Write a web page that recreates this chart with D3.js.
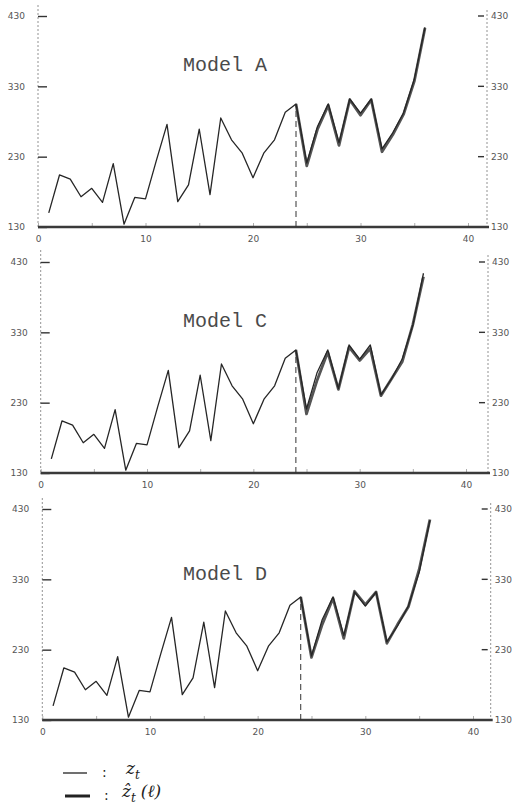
<!DOCTYPE html>
<html lang="en">
<head>
    <meta charset="UTF-8">
    <title>Models A, C, D</title>
    <script src="https://d3js.org/d3.v7.min.js"></script>
</head>
<body style="margin:0;background:#fff;">

<style>
    .axis text{
        fill: #555;
        font: 9px "DejaVu Sans", sans-serif;
    }
    .axis line{
        stroke: #333;
        stroke-width: 1.4;
    }
    .axis path{
        display: none;
    }
    .title{
        font: 20px "Liberation Mono", monospace;
        fill: #4a4a4a;
    }
</style>

<script type="text/javascript">

    // observed series z_t, t = 1..36
    var time = d3.range(1, 37);
    var actual = [150, 204, 198, 173, 185, 165, 220, 134, 172, 170, 224, 276,
                  166, 190, 269, 176, 285, 254, 235, 200, 235, 254, 293, 305,
                  221, 273, 305, 250, 312, 292, 312, 241, 264, 292, 340, 414];

    // forecasts from origin t = 24
    var origin = 24;
    var leadTime = d3.range(24, 37);
    var forecastA = [305, 217, 269, 303, 246, 311, 289, 311, 237, 261, 290, 337, 413];
    var forecastC = [305, 214, 262, 302, 249, 309, 290, 307, 240, 264, 288, 341, 409];
    var forecastD = [305, 219, 266, 303, 246, 313, 294, 312, 239, 266, 291, 344, 415];

    var models = ["Model A", "Model C", "Model D"];
    var forecasts = [forecastA, forecastC, forecastD];

    var yTicks = [130, 230, 330, 430];
    var xTicks = [0, 5, 10, 15, 20, 25, 30, 35, 40];

    // where each panel sits on the scanned page
    var panels = [
        {x0: 38, x40: 468, right: 487, y130: 227, y430: 16, top: 5, titleY: 71},
        {x0: 40.7, x40: 466, right: 488, y130: 473, y430: 262, top: 250, titleY: 327},
        {x0: 42.3, x40: 473, right: 490.7, y130: 720, y430: 509, top: 498, titleY: 580}
    ];

    var svg = d3.select("body").append("svg")
            .attr("width", 517)
            .attr("height", 808);

    panels.forEach(function(p, i){

        var xScale = d3.scaleLinear().domain([0, 40]).range([p.x0, p.x40]);
        var yScale = d3.scaleLinear().domain([130, 430]).range([p.y130, p.y430]);

        var g = svg.append("g");

        // dotted side axes
        g.append("line")
                .attr("x1", p.x0).attr("x2", p.x0)
                .attr("y1", p.top).attr("y2", p.y130)
                .style("stroke", "#777").style("stroke-width", 0.8)
                .style("stroke-dasharray", "2,2");
        g.append("line")
                .attr("x1", p.right).attr("x2", p.right)
                .attr("y1", p.top + 5).attr("y2", p.y130)
                .style("stroke", "#777").style("stroke-width", 0.8)
                .style("stroke-dasharray", "2,2");

        g.append("g")
                .attr("class", "axis")
                .attr("transform", "translate(" + p.x0 + ",0)")
                .call(d3.axisLeft(yScale).tickValues(yTicks)
                        .tickSizeInner(-9).tickSizeOuter(0).tickPadding(13));

        g.append("g")
                .attr("class", "axis")
                .attr("transform", "translate(" + p.right + ",0)")
                .call(d3.axisRight(yScale).tickValues(yTicks)
                        .tickSizeInner(0).tickSizeOuter(0).tickPadding(4));

        g.append("g")
                .selectAll("line")
                .data(yTicks).enter()
                .append("line")
                .attr("x1", p.right - 9).attr("x2", p.right - 3)
                .attr("y1", function(d){ return yScale(d); })
                .attr("y2", function(d){ return yScale(d); })
                .style("stroke", "#333").style("stroke-width", 1.4);

        var xAxis = g.append("g")
                .attr("class", "axis")
                .attr("transform", "translate(0," + p.y130 + ")")
                .call(d3.axisBottom(xScale).tickValues(xTicks)
                        .tickSizeInner(-4).tickSizeOuter(0).tickPadding(9)
                        .tickFormat(function(d){ return d % 10 === 0 ? d : ""; }));
        xAxis.selectAll("line").style("stroke", "#999").style("stroke-width", 0.8);

        // thick base line
        g.append("line")
                .attr("x1", p.x0).attr("x2", p.right + 2)
                .attr("y1", p.y130).attr("y2", p.y130)
                .style("stroke", "#3a3a3a").style("stroke-width", 2.6);

        // forecast origin
        g.append("line")
                .attr("x1", xScale(origin)).attr("x2", xScale(origin))
                .attr("y1", p.y130)
                .attr("y2", yScale(actual[origin - 1]))
                .style("stroke", "#333").style("stroke-width", 1)
                .style("stroke-dasharray", "6,4");

        var line = d3.line()
                .x(function(d){ return xScale(d[0]); })
                .y(function(d){ return yScale(d[1]); });

        g.append("path")
                .datum(leadTime.map(function(t, k){ return [t, forecasts[i][k]]; }))
                .attr("d", line)
                .style("fill", "none")
                .style("stroke", "#555")
                .style("stroke-width", 2.8)
                .style("stroke-linejoin", "round");

        g.append("path")
                .datum(time.map(function(t, k){ return [t, actual[k]]; }))
                .attr("d", line)
                .style("fill", "none")
                .style("stroke", "#262626")
                .style("stroke-width", 1.3)
                .style("stroke-linejoin", "round");

        g.append("text")
                .attr("class", "title")
                .attr("x", 183)
                .attr("y", p.titleY)
                .text(models[i]);
    });

    // handwritten legend
    var legend = svg.append("g");
    legend.append("line")
            .attr("x1", 63).attr("x2", 87).attr("y1", 773).attr("y2", 773)
            .style("stroke", "#222").style("stroke-width", 1.3);
    legend.append("line")
            .attr("x1", 65).attr("x2", 90).attr("y1", 796).attr("y2", 796)
            .style("stroke", "#222").style("stroke-width", 3);

    legend.append("text")
            .attr("x", 102).attr("y", 777)
            .style("font", "14px 'DejaVu Sans', sans-serif").style("fill", "#222")
            .text(":");
    legend.append("text")
            .attr("x", 104).attr("y", 800)
            .style("font", "14px 'DejaVu Sans', sans-serif").style("fill", "#222")
            .text(":");

    var z1 = legend.append("text")
            .attr("x", 126).attr("y", 774)
            .style("font", "italic 17px 'DejaVu Serif', serif").style("fill", "#222");
    z1.append("tspan").text("z");
    z1.append("tspan").attr("dy", 5).style("font-size", "12px").text("t");

    var z2 = legend.append("text")
            .attr("x", 122).attr("y", 797)
            .style("font", "italic 17px 'DejaVu Serif', serif").style("fill", "#222");
    z2.append("tspan").text("ẑ");
    z2.append("tspan").attr("dy", 5).style("font-size", "12px").text("t");
    z2.append("tspan").attr("dy", -5).attr("dx", 5).text("(ℓ)");

</script>

</body>
</html>
